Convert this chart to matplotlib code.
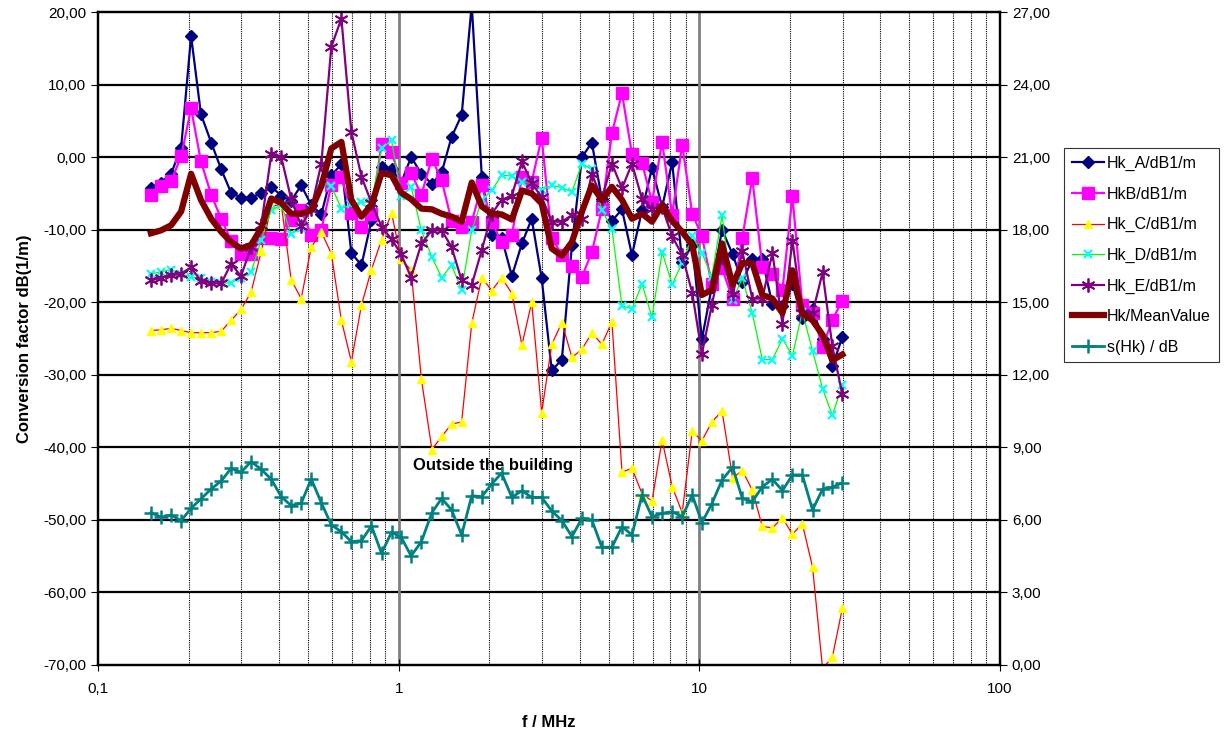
import numpy as np
import matplotlib.pyplot as plt
from matplotlib.ticker import FixedLocator, FuncFormatter, NullFormatter

plt.rcParams['font.family'] = ['Liberation Sans', 'DejaVu Sans']

# measurement frequencies / MHz
freq = [0.150, 0.162, 0.175, 0.189, 0.204, 0.220, 0.238, 0.257, 0.277, 0.299,
        0.323, 0.349, 0.377, 0.407, 0.439, 0.474, 0.512, 0.553, 0.597, 0.645,
        0.696, 0.752, 0.812, 0.877, 0.947, 1.02, 1.10, 1.19, 1.29, 1.39,
        1.50, 1.62, 1.75, 1.89, 2.04, 2.20, 2.38, 2.57, 2.77, 2.99,
        3.23, 3.49, 3.77, 4.07, 4.39, 4.74, 5.12, 5.53, 5.97, 6.45,
        6.96, 7.52, 8.12, 8.77, 9.47, 10.2, 11.0, 11.9, 12.9, 13.9,
        15.0, 16.2, 17.5, 18.9, 20.4, 22.0, 23.8, 25.7, 27.7, 29.9]

hk_a = [-4.2, -3.5, -2.3, 1.3, 16.7, 5.9, 2.0, -1.7, -4.9, -5.6,
        -5.6, -5.0, -4.1, -5.3, -6.0, -3.9, -6.6, -7.9, -2.5, -1.0,
        -13.2, -14.9, -8.7, -1.3, -1.6, -3.5, 0.0, -2.3, -3.7, -2.1,
        2.8, 5.8, 21.0, -2.7, -10.8, -11.1, -16.4, -11.9, -8.5, -16.7,
        -29.4, -27.9, -12.1, 0.0, 2.0, -5.8, -8.8, -7.2, -13.5, -7.3,
        -1.5, -6.9, -0.7, -14.5, -12.1, -25.1, -17.9, -10.0, -13.4, -17.2,
        -14.1, -14.1, -20.3, -20.5, -17.5, -22.2, -20.9, -25.0, -28.8, -24.8]

hk_b = [-5.2, -4.0, -3.3, 0.1, 6.7, -0.6, -5.2, -8.5, -11.5, -13.3,
        -13.3, -11.2, -11.2, -11.3, -8.7, -7.3, -10.8, -10.0, -3.9, -2.7,
        -7.7, -9.7, -7.9, 1.8, 0.7, -3.5, -2.2, -5.2, -0.2, -3.2,
        -8.8, -9.7, -8.9, -3.9, -9.0, -11.7, -10.8, -2.7, -3.4, 2.7,
        -11.1, -13.5, -15.0, -16.5, -13.1, -7.2, 3.3, 8.8, 0.4, -0.8,
        -6.2, 2.1, -8.0, 1.7, -7.8, -10.9, -17.5, -15.3, -19.6, -11.1,
        -2.9, -15.1, -16.1, -18.3, -5.4, -20.4, -21.5, -26.2, -22.4, -19.8]

hk_c = [-23.9, -23.8, -23.6, -23.9, -24.2, -24.2, -24.2, -24.0, -22.5, -21.0,
        -18.6, -13.0, -6.8, -6.5, -16.9, -19.5, -12.4, -10.3, -13.3, -22.5,
        -28.2, -20.4, -15.5, -11.4, -7.7, -14.1, -15.6, -30.6, -40.3, -38.5,
        -36.8, -36.5, -22.9, -16.6, -18.4, -16.6, -18.8, -25.9, -20.0, -35.2,
        -25.8, -22.8, -27.6, -26.5, -24.2, -25.8, -22.7, -43.4, -42.9, -46.4,
        -47.4, -39.0, -45.4, -49.0, -37.8, -39.1, -36.5, -35.0, -44.2, -43.2,
        -45.9, -50.9, -51.1, -49.7, -52.0, -50.5, -56.5, -70.5, -68.9, -62.2]

hk_d = [-16.1, -15.8, -15.5, -16.1, -16.5, -16.7, -17.2, -17.4, -17.3, -16.7,
        -15.9, -11.4, -7.3, -6.6, -10.6, -9.8, -7.2, -3.5, -4.0, -7.1,
        -6.5, -6.2, -6.2, 1.2, 2.3, -5.4, -4.1, -10.1, -13.8, -16.6,
        -14.9, -18.3, -10.1, -5.9, -4.6, -2.5, -2.6, -3.4, -3.5, -4.6,
        -3.9, -4.2, -4.8, -0.9, -1.7, -7.3, -9.9, -20.5, -20.9, -17.5,
        -22.1, -13.1, -17.5, -14.6, -10.9, -13.2, -16.5, -8.0, -19.7, -16.7,
        -21.5, -27.9, -27.9, -25.0, -27.4, -21.3, -26.7, -31.9, -35.6, -31.4]

hk_e = [-17.0, -16.6, -16.3, -16.1, -15.2, -17.1, -17.4, -17.4, -14.7, -16.4,
        -12.4, -9.4, 0.4, 0.0, -5.8, -9.5, -7.1, -0.9, 15.2, 19.1,
        3.5, -2.7, -6.3, -9.6, -11.3, -13.4, -16.6, -11.9, -10.1, -10.1,
        -12.4, -17.0, -17.6, -12.8, -7.8, -5.9, -5.3, -0.6, -3.6, -5.5,
        -8.9, -8.9, -8.0, -8.5, -2.3, -5.7, -0.9, -4.3, -0.9, -5.8,
        -7.1, -6.9, -10.9, -13.5, -18.7, -27.1, -20.4, -13.7, -18.9, -13.0,
        -19.5, -19.5, -13.2, -23.0, -11.5, -21.5, -21.5, -15.9, -26.1, -32.7]

hk_mean = [-10.5, -10.1, -9.4, -7.5, -2.3, -5.9, -8.5, -10.3, -11.7, -12.6,
           -12.1, -9.8, -5.7, -6.3, -7.8, -7.8, -7.3, -4.0, 1.2, 2.1,
           -5.9, -8.2, -6.6, -2.2, -2.5, -4.9, -5.8, -7.1, -7.2, -7.8,
           -8.2, -8.9, -3.5, -6.8, -7.8, -7.9, -8.6, -4.6, -5.0, -6.4,
           -12.6, -13.6, -11.7, -7.5, -3.9, -5.9, -4.1, -5.9, -8.5, -7.8,
           -8.9, -6.6, -8.8, -10.3, -12.1, -19.0, -18.3, -11.9, -17.6, -14.6,
           -14.6, -19.0, -19.5, -21.5, -15.6, -21.5, -22.5, -24.5, -28.0, -27.2]

s_hk = [6.30, 6.11, 6.20, 5.97, 6.48, 6.87, 7.28, 7.61, 8.13, 7.97,
        8.41, 8.09, 7.68, 6.96, 6.59, 6.69, 7.69, 6.71, 5.79, 5.51,
        5.10, 5.14, 5.75, 4.62, 5.49, 5.28, 4.51, 5.10, 6.30, 6.89,
        6.41, 5.38, 7.00, 6.96, 7.49, 7.93, 6.93, 7.21, 6.93, 6.93,
        6.37, 5.97, 5.31, 6.07, 6.00, 4.87, 4.87, 5.72, 5.38, 7.03,
        6.13, 6.27, 6.34, 6.13, 7.03, 5.89, 6.66, 7.65, 8.18, 6.89,
        6.75, 7.37, 7.68, 7.21, 7.86, 7.86, 6.41, 7.27, 7.35, 7.54]

comma = FuncFormatter(lambda v, p: ('%.2f' % v).replace('.', ','))

fig = plt.figure(figsize=(12.26, 7.31), dpi=100)
ax = fig.add_axes([98 / 1226, 1 - 665 / 731, 902 / 1226, 653 / 731])
ax2 = ax.twinx()

ax.set_xscale('log')
ax.set_xlim(0.1, 100)
ax.set_ylim(-70, 20)
ax2.set_ylim(0, 27)

# grid
for yv in range(-60, 20, 10):
    ax.axhline(yv, color='black', lw=1.6, zorder=1)
for dec in [0.1, 1, 10]:
    for m in range(2, 10):
        ax.axvline(dec * m, color='black', lw=0.8, ls=(0, (1, 1)), zorder=1)
for xv in [1, 10]:
    ax.axvline(xv, color='#808080', lw=2, zorder=1)

ax.plot(freq, hk_a, color='#000080', lw=1.6, marker='D', ms=6, label='Hk_A/dB1/m', zorder=3)
ax.plot(freq, hk_b, color='#ff00ff', lw=1.6, marker='s', ms=8, label='HkB/dB1/m', zorder=3)
ax.plot(freq, hk_c, color='#ff0000', lw=0.9, marker='^', ms=6, mfc='#ffff00', mec='#ffff00', label='Hk_C/dB1/m', zorder=3)
ax.plot(freq, hk_d, color='#00ff00', lw=0.9, marker='x', ms=6, mew=1.6, mec='#00ffff', label='Hk_D/dB1/m', zorder=3)
ax.plot(freq, hk_e, color='#800080', lw=1.6, marker=(6, 2, 0), ms=10, mew=1.3, label='Hk_E/dB1/m', zorder=3)
ax.plot(freq, hk_mean, color='#800000', lw=4.5, label='Hk/MeanValue', zorder=4)
ax2.plot(freq, s_hk, color='#008080', lw=2, marker='+', ms=10, mew=1.8, label='s(Hk) / dB', zorder=4)

ax.text(1.12, -42.5, 'Outside the building', fontsize=12, fontweight='bold', va='center', ha='left')

ax.yaxis.set_major_locator(FixedLocator(range(-70, 21, 10)))
ax.yaxis.set_major_formatter(comma)
ax2.yaxis.set_major_locator(FixedLocator(range(0, 28, 3)))
ax2.yaxis.set_major_formatter(comma)
ax.xaxis.set_major_locator(FixedLocator([0.1, 1, 10, 100]))
ax.xaxis.set_major_formatter(FuncFormatter(lambda v, p: {0.1: '0,1', 1: '1', 10: '10', 100: '100'}.get(round(v, 1), '')))
ax.xaxis.set_minor_formatter(NullFormatter())
ax.tick_params(axis='x', which='minor', length=0)
ax.tick_params(axis='x', which='major', direction='inout', length=8, labelsize=11, pad=8)
ax.tick_params(axis='y', direction='out', length=5, labelsize=11)
ax2.tick_params(axis='y', direction='out', length=5, labelsize=11)

for sp in ['left', 'right', 'bottom', 'top']:
    ax.spines[sp].set_linewidth(1.6)
    ax2.spines[sp].set_linewidth(1.6)

ax.set_xlabel('f / MHz', fontsize=12, fontweight='bold', labelpad=14)
ax.set_ylabel('Conversion factor dB(1/m)', fontsize=12, fontweight='bold', labelpad=8)

h1, l1 = ax.get_legend_handles_labels()
h2, l2 = ax2.get_legend_handles_labels()
leg = fig.legend(h1 + h2, l1 + l2, loc='upper left', bbox_to_anchor=(1064 / 1226, 1 - 148 / 731),
                 fontsize=11.5, frameon=True, fancybox=False, edgecolor='black', labelspacing=0.97,
                 handlelength=2.0, handletextpad=0.2, borderpad=0.5, borderaxespad=0)
leg.get_frame().set_linewidth(0.8)

fig.savefig('out.png', dpi=100)
